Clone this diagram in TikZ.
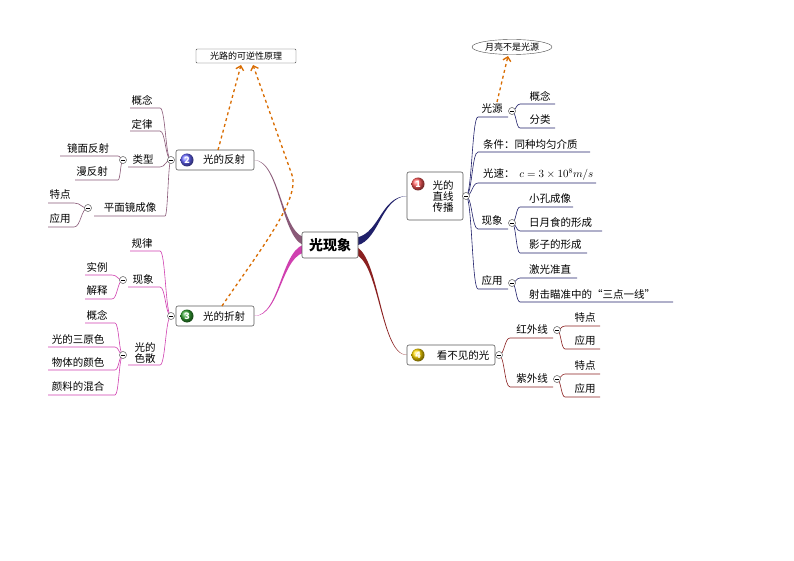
\documentclass[tikz,border=0pt]{standalone}
\usepackage{fontspec}
\setmainfont{Noto Sans CJK SC}
\usetikzlibrary{shapes.geometric,arrows.meta,decorations.pathmorphing}
\newcommand\rbr[6]{\draw[#6] (#1,#2) .. controls ({(#1+#3)/2},#2) and ({(#1+#3)/2},#5) .. (#3,#5) -- (#4,#5);}
\newcommand\lbr[6]{\draw[#6] (#3,#5) -- (#4,#5) .. controls ({(#4+#1)/2},#5) and ({(#4+#1)/2},#2) .. (#1,#2);}
\newcommand\coll[2]{\draw[gray!70!black,fill=white,line width=0.5pt] (#1,#2) circle (3.5); \draw[line width=0.6pt] (#1-2,#2)--(#1+2,#2);}
\newcommand\ball[4]{\shade[ball color=#3] (#1,#2) circle (6.5); \node[font=\bfseries\small,text=#4] at (#1,#2) {\textcolor{black}{}\phantom{}};}
\newcommand\taper[5]{\fill[#5] (#1,#2-4) .. controls ({(#1+#3)/2},#2-4) and ({(#1+#3)/2},#4) .. (#3,#4) .. controls ({(#1+#3)/2},#4+1) and ({(#1+#3)/2},#2+4) .. (#1,#2+4) -- cycle;}
\newcommand\bnum[4]{\shade[ball color=#3] (#1,#2) circle (6.5); \node[font=\bfseries\small,text=#4] at (#1,#2) {\BN};}
\definecolor{cA}{HTML}{20206A}
\definecolor{cB}{HTML}{8A5A78}
\definecolor{cC}{HTML}{D040B0}
\definecolor{cD}{HTML}{8B2020}
\tikzset{t/.style={font=\fontsize{10.5}{12}\selectfont,inner sep=0pt},
 box/.style={draw=gray!70!black,rounded corners=2pt,fill=white,line width=0.6pt},
 cal/.style={draw=orange!85!black,dashed,line width=1.3pt,-{Straight Barb[length=4pt]}},
 la/.style={cA,line width=0.6pt},lb/.style={cB,line width=0.6pt},lc/.style={cC,line width=0.6pt},ld/.style={cD,line width=0.6pt},
 num/.style={font=\bfseries\small,text=white}}
\begin{document}
\begin{tikzpicture}[x=1pt,y=-1pt]
\useasboundingbox[fill=white] (0,0) rectangle (794,561);
% main branches
\taper{352}{242}{407}{196}{cA}
\taper{352}{250}{407}{355}{cD}
\taper{308}{242}{254}{160}{cB}
\taper{308}{248}{254}{316}{cC}
\node[box,minimum width=56pt,minimum height=26pt,font=\bfseries\fontsize{14}{16}\selectfont] (c) at (330,245) {光现象};
% node 1
\node[box,minimum width=56pt,minimum height=48pt] (n1) at (435,196) {};
\node[t,align=center] (n1t) at (443,196) {光的\\[-1pt]直线\\[-1pt]传播};
\shade[ball color=red!65] (418,184) circle (6.5); \node[num] (b1) at (418,184) {1};
\rbr{466}{196}{478}{508}{117}{la}
\node[t] (a1) at (492,109) {光源};
\rbr{512}{111}{520}{555}{104}{la}\rbr{512}{111}{520}{555}{128}{la}
\coll{512}{111}
\node[t] (a11) at (540,96) {概念};\node[t] (a12) at (540,120) {分类};
\rbr{466}{196}{478}{590}{152}{la}
\node[t,anchor=west] (a2) at (483,144) {条件：同种均匀介质};
\rbr{466}{196}{478}{596}{183}{la}
\node[t,anchor=west] (a3) at (483,174) {光速：\ \ $c=3\times10^{8}m/s$};
\rbr{466}{196}{478}{508}{229}{la}
\node[t] (a4) at (492,221) {现象};
\rbr{512}{223}{520}{573}{207}{la}\rbr{512}{223}{520}{602}{231}{la}\rbr{512}{223}{520}{587}{253}{la}
\coll{512}{223}
\node[t,anchor=west] at (529,199) {小孔成像};
\node[t,anchor=west] at (529,223) {日月食的形成};
\node[t,anchor=west] at (529,245) {影子的形成};
\rbr{466}{196}{478}{508}{289}{la}
\node[t] (a5) at (492,281) {应用};
\rbr{512}{283}{520}{577}{278}{la}\rbr{512}{283}{520}{673}{302}{la}
\coll{512}{283}
\node[t,anchor=west] at (529,270) {激光准直};
\node[t,anchor=west] at (529,294) {射击瞄准中的“三点一线”};
\coll{466}{196}
% node 4
\node[box,minimum width=88pt,minimum height=20pt] (n4) at (451,355) {};
\node[t] at (463,355) {看不见的光};
\shade[ball color=yellow!70!orange] (418,355) circle (6.5); \node[num] (b4) at (418,355) {4};
\rbr{499}{355}{510}{553}{338}{ld}\rbr{499}{355}{510}{553}{387}{ld}
\node[t] at (532,329) {红外线};\node[t] at (532,378) {紫外线};
\rbr{557}{330}{565}{600}{326}{ld}\rbr{557}{330}{565}{600}{349}{ld}
\rbr{557}{379}{565}{600}{374}{ld}\rbr{557}{379}{565}{600}{397}{ld}
\coll{557}{330}\coll{557}{379}
\node[t] at (585,318) {特点};\node[t] at (585,341) {应用};
\node[t] at (585,366) {特点};\node[t] at (585,389) {应用};
\coll{499}{355}
% node 2
\node[box,minimum width=78pt,minimum height=20pt] (n2) at (215,160) {};
\node[t] at (224,160) {光的反射};
\shade[ball color=blue!60] (187,160) circle (6.5); \node[num] (b2) at (187,160) {2};
\lbr{171}{160}{130}{160}{108}{lb}\lbr{171}{160}{130}{160}{131}{lb}
\node[t] at (142,100) {概念};\node[t] at (142,124) {定律};
\lbr{171}{160}{128}{160}{167}{lb}
\node[t] at (143,160) {类型};
\lbr{123}{160}{60}{118}{156}{lb}\lbr{123}{160}{75}{118}{180}{lb}
\node[t] at (88,148) {镜面反射};\node[t] at (92,172) {漫反射};
\coll{123}{160}
\lbr{171}{160}{94}{165}{216}{lb}
\node[t] at (130,208) {平面镜成像};
\lbr{88}{208}{48}{74}{203}{lb}\lbr{88}{208}{48}{74}{227}{lb}
\node[t] at (60,195) {特点};\node[t] at (60,219) {应用};
\coll{88}{208}
\coll{171}{160}
% node 3
\node[box,minimum width=78pt,minimum height=20pt] (n3) at (215,316) {};
\node[t] at (224,316) {光的折射};
\shade[ball color=green!55!black!80] (187,316) circle (6.5); \node[num] (b3) at (187,316) {3};
\lbr{171}{316}{130}{160}{251}{lc}
\node[t] at (142,244) {规律};
\lbr{171}{316}{128}{160}{287}{lc}
\node[t] at (143,280) {现象};
\lbr{123}{280}{85}{112}{275}{lc}\lbr{123}{280}{85}{112}{299}{lc}
\node[t] at (97,267) {实例};\node[t] at (97,291) {解释};
\coll{123}{280}
\lbr{171}{316}{128}{160}{365}{lc}
\node[t,align=left] at (145,353) {光的\\[-1pt]色散};
\lbr{123}{355}{85}{115}{323}{lc}\lbr{123}{355}{48}{115}{347}{lc}\lbr{123}{355}{48}{115}{370}{lc}\lbr{123}{355}{48}{115}{395}{lc}
\node[t] at (97,315) {概念};\node[t] at (78,339) {光的三原色};\node[t] at (78,362) {物体的颜色};\node[t] at (78,387) {颜料的混合};
\coll{123}{355}
\coll{171}{316}
% callouts
\node[draw=gray!60!black,rounded corners=1pt,minimum width=100pt,minimum height=14pt,inner sep=0pt,font=\fontsize{9}{10}\selectfont] (k) at (246,56) {光路的可逆性原理};
\node[draw=gray!60!black,ellipse,minimum width=80pt,minimum height=15pt,inner sep=0pt,font=\fontsize{9}{10}\selectfont] (m) at (512,47) {月亮不是光源};
\draw[cal] (218,150) -- (241,65);
\draw[cal] (222,306) .. controls (260,250) and (300,200) .. (292,175) -- (253,65);
\draw[cal] (497,102) -- (508,56);
\end{tikzpicture}
\end{document}
